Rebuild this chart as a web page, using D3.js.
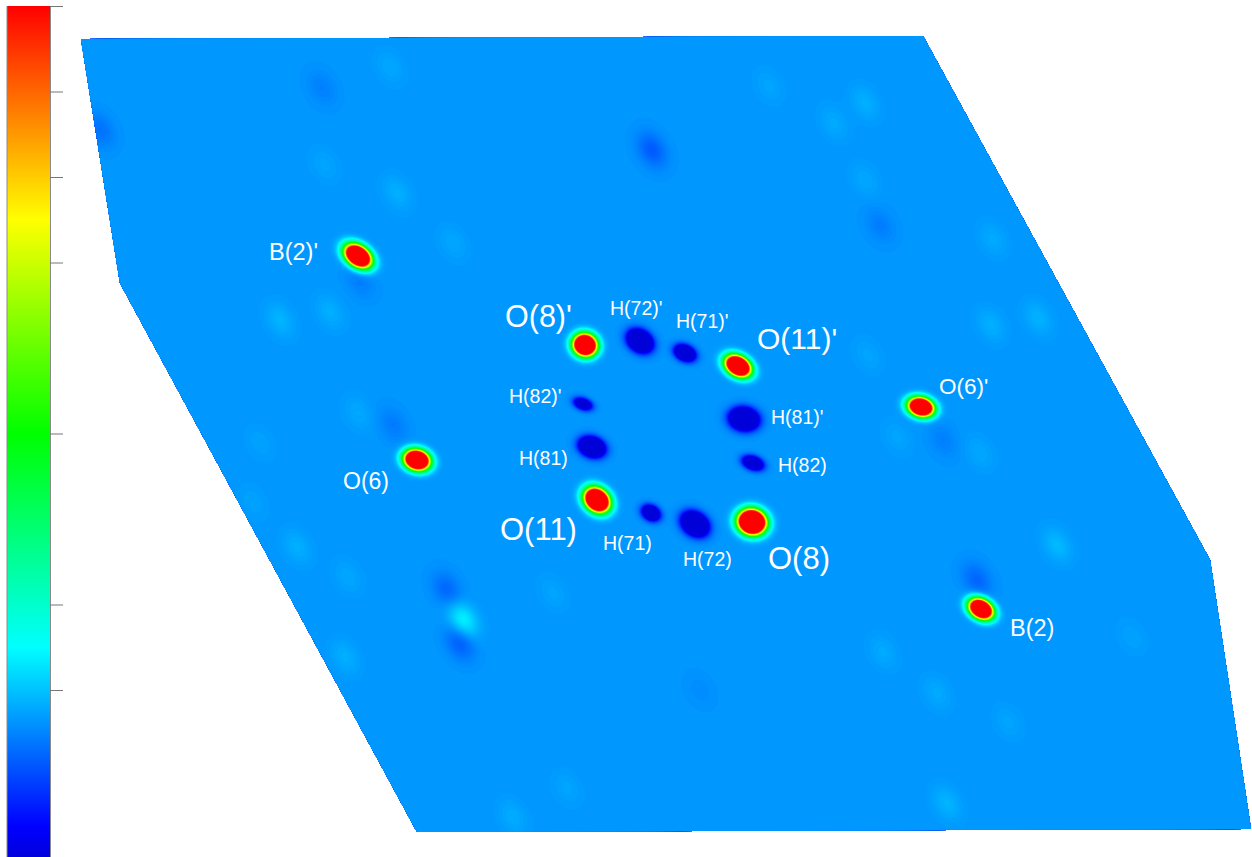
<!DOCTYPE html>
<html>
<head>
<meta charset="utf-8">
<title>Difference density map</title>
<script src="https://cdn.jsdelivr.net/npm/d3@7"></script>
<style>
  html, body { margin: 0; padding: 0; background: #fff; overflow: hidden; }
  text { font-family: "Liberation Sans", Arial, sans-serif; fill: #fff; }
</style>
</head>
<body>
<div id="chart"></div>
<script>
const outlineX = [81, 923, 1210, 1251, 417, 120];
const outlineY = [39, 36, 560, 829, 832, 283];
const baseLevel = 0.1655;

// atoms: positive peaks first, then the hydrogen holes
const atomX =      [585, 738, 597, 752, 417, 921, 358, 981,   640, 685, 583, 592, 744, 753, 651, 695];
const atomY =      [345, 366, 500, 522, 460, 407, 256, 609,   341, 353, 404, 447, 419, 463, 513, 524];
const atomHeight = [2.3, 2.3, 2.4, 2.8, 2.3, 2.2, 2.3, 2.2,   -0.7, -0.6, -0.4, -0.7, -0.7, -0.5, -0.5, -0.7];
const atomLong =   [7.0, 8.0, 8.0, 8.0, 7.6, 7.6, 8.6, 7.6,   7.8, 6.4, 5.8, 7.6, 8.4, 6.4, 5.8, 8.3];
const atomShort =  [6.4, 5.6, 6.4, 7.0, 5.8, 5.4, 5.8, 5.4,   6.0, 4.5, 3.5, 5.6, 6.5, 4.0, 4.4, 6.4];
const atomTilt =   [20, 30, 40, 15, 15, 15, 35, 30,   35, 25, 20, 20, 10, 20, 30, 35];

// weak ripples in the background
const rippleX = [652, 322, 100, 447, 460, 977, 393, 943, 880, 360, 700,
                 463, 280, 358, 297, 260, 253, 348, 345, 513, 567, 553,
                 1038, 1057, 980, 868, 897, 883, 937, 947, 1008, 1132,
                 769, 865, 834, 865, 993, 991, 390, 325, 397, 453, 330];
const rippleY = [150, 88, 130, 590, 642, 580, 425, 440, 225, 280, 690,
                 620, 320, 413, 547, 443, 502, 577, 657, 817, 788, 593,
                 318, 545, 453, 355, 437, 652, 693, 803, 722, 637,
                 86, 103, 123, 180, 239, 325, 67, 165, 193, 243, 312];
const rippleHeight = [-0.05, -0.018, -0.03, -0.04, -0.05, -0.04, -0.022, -0.018, -0.02, -0.02, -0.008,
                      0.08, 0.024, 0.015, 0.02, 0.01, 0.01, 0.014, 0.02, 0.018, 0.012, 0.012,
                      0.022, 0.028, 0.014, 0.012, 0.012, 0.016, 0.016, 0.024, 0.012, 0.01,
                      0.012, 0.02, 0.016, 0.014, 0.016, 0.02, 0.014, 0.012, 0.02, 0.014, 0.02];

// labels
const labelText = ["O(8)'", "O(11)'", "O(11)", "O(8)",
                   "H(72)'", "H(71)'", "H(82)'", "H(81)", "H(71)", "H(72)", "H(81)'", "H(82)",
                   "O(6)'", "O(6)", "B(2)'", "B(2)"];
const labelX = [505, 757, 500, 768, 610, 676, 509, 519, 603, 683, 771, 778, 939, 343, 269, 1010];
const labelY = [316, 338, 529, 558, 308, 321, 396, 458, 543, 559, 417, 465, 386, 481, 252, 628];
const labelSize = [30.5, 30, 31, 31, 19.5, 19.5, 19.5, 19.5, 19.5, 19.5, 19.5, 19.5, 22.5, 23, 23.5, 23.5];

// colour bar
const barStops = [0, 0.04, 0.25, 0.5, 0.75, 1];
const barColors = ["#0000d8", "#0000ff", "#00ffff", "#00ff00", "#ffff00", "#ff0000"];
const barTicks = [1, 0.9, 0.8, 0.7, 0.5, 0.3, 0.2];

const width = 1252;
const height = 857;
const step = 2;

const svg = d3.select("#chart").append("svg")
    .attr("width", width)
    .attr("height", height)
    .style("display", "block");

const color = d3.scaleLinear().domain(barStops).range(barColors).clamp(true);
const xMap = d3.scaleLinear().domain([0, 1252]).range([0, width]);
const yMap = d3.scaleLinear().domain([0, 857]).range([0, height]);
const yBar = d3.scaleLinear().domain([0, 1]).range([861, 6]);

// work out the density on a grid
function bump(px, py, x0, y0, h, sLong, sShort, tilt) {
    const a = tilt * Math.PI / 180;
    const dx = px - x0, dy = py - y0;
    const u = dx * Math.cos(a) + dy * Math.sin(a);
    const v = -dx * Math.sin(a) + dy * Math.cos(a);
    return h * Math.exp(-(u * u) / (2 * sLong * sLong) - (v * v) / (2 * sShort * sShort));
}

const nx = Math.ceil(width / step) + 1;
const ny = Math.ceil(height / step) + 1;
const grid = new Float64Array(nx * ny);
for (let j = 0; j < ny; j++) {
    for (let i = 0; i < nx; i++) {
        const px = xMap.invert(i * step), py = yMap.invert(j * step);
        let z = baseLevel;
        atomX.forEach((x0, k) => {
            z += bump(px, py, x0, atomY[k], atomHeight[k], atomLong[k], atomShort[k], atomTilt[k]);
        });
        rippleX.forEach((x0, k) => {
            z += bump(px, py, x0, rippleY[k], rippleHeight[k], 13, 9, 60);
        });
        grid[j * nx + i] = Math.max(z, 0.001);
    }
}

svg.append("clipPath").attr("id", "map-clip")
    .append("polygon")
    .attr("points", outlineX.map((x, i) => xMap(x) + "," + yMap(outlineY[i])).join(" "));

// thin steps around the background level, coarser towards the top of the bar
const levels = d3.range(0, 0.3, 0.004).concat(d3.range(0.3, 1.0001, 0.0125));
const contours = d3.contours().size([nx, ny]).thresholds(levels)(grid);
const path = d3.geoPath(d3.geoTransform({
    point(x, y) { this.stream.point((x - 0.5) * step, (y - 0.5) * step); }
}));

const map = svg.append("g").attr("clip-path", "url(#map-clip)");
map.selectAll("path")
    .data(contours)
    .join("path")
    .attr("d", path)
    .attr("fill", d => color(d.value));

// labels
svg.append("g").selectAll("text")
    .data(labelText)
    .join("text")
    .attr("x", (d, i) => xMap(labelX[i]))
    .attr("y", (d, i) => yMap(labelY[i]))
    .attr("dy", "0.35em")
    .attr("font-size", (d, i) => labelSize[i])
    .text(d => d);

// colour bar on the left
const gradient = svg.append("linearGradient")
    .attr("id", "bar-gradient")
    .attr("gradientUnits", "userSpaceOnUse")
    .attr("x1", 0).attr("x2", 0)
    .attr("y1", yBar(0)).attr("y2", yBar(1));
gradient.selectAll("stop")
    .data(barStops)
    .join("stop")
    .attr("offset", d => d)
    .attr("stop-color", (d, i) => barColors[i]);

svg.append("rect")
    .attr("x", 7).attr("y", yBar(1))
    .attr("width", 43).attr("height", yBar(0) - yBar(1))
    .attr("fill", "url(#bar-gradient)");
svg.append("line").attr("x1", 7).attr("x2", 7).attr("y1", yBar(1)).attr("y2", yBar(0)).attr("stroke", "#8a8a8a");
svg.append("line").attr("x1", 50.5).attr("x2", 50.5).attr("y1", yBar(1)).attr("y2", yBar(0)).attr("stroke", "#8a8a8a");

const barAxis = svg.append("g")
    .attr("transform", "translate(50,0)")
    .call(d3.axisRight(yBar).tickValues(barTicks).tickFormat("").tickSize(13).tickSizeOuter(0));
barAxis.select(".domain").remove();
barAxis.selectAll("line").attr("stroke", "#777");
</script>
</body>
</html>
